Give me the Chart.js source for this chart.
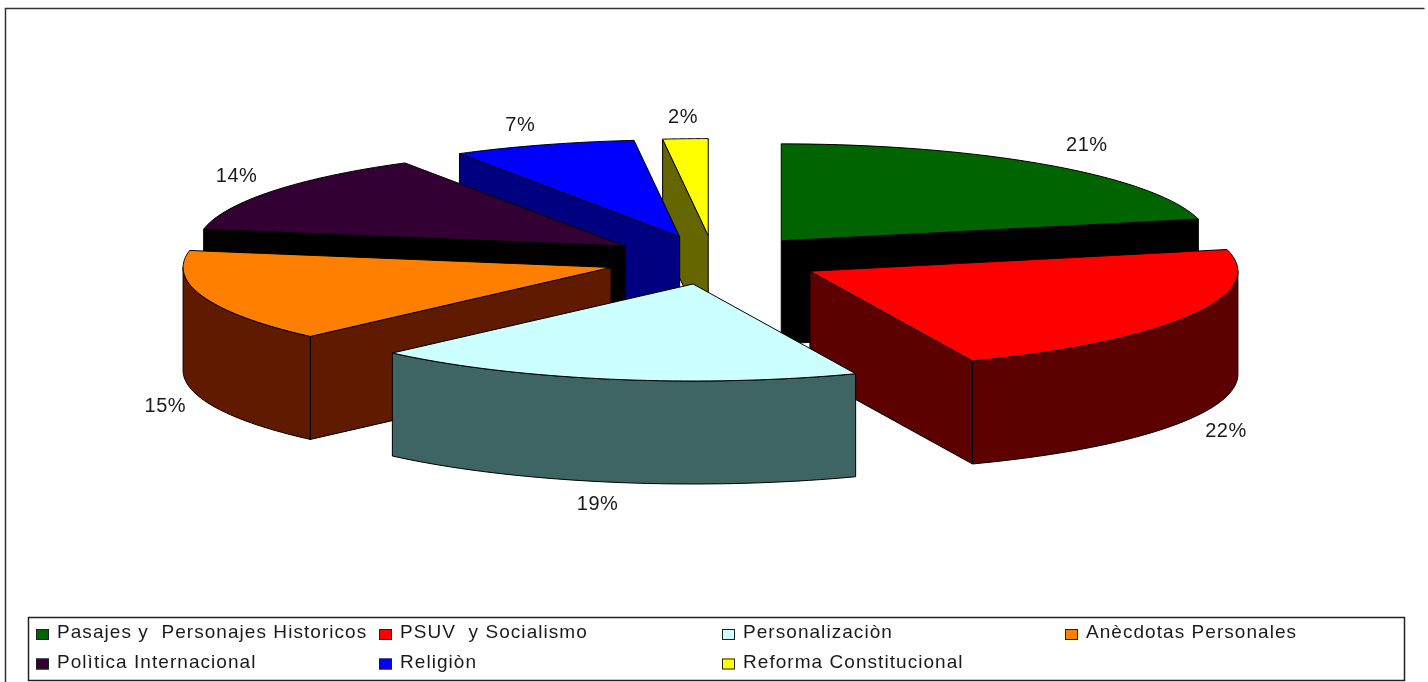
<!DOCTYPE html>
<html>
<head>
<meta charset="utf-8">
<title>Temas</title>
<style>
    html, body { margin: 0; padding: 0; background: #fff; overflow: hidden; }
    #chart-wrap { position: relative; width: 1428px; height: 682px; }
</style>
</head>
<body>
<div id="chart-wrap"><canvas id="pie-chart"></canvas></div>
<script src="https://cdn.jsdelivr.net/npm/chart.js@4"></script>
<script>
// Chart data
var categories = [
    "Pasajes y  Personajes Historicos",
    "PSUV  y Socialismo",
    "Personalizaciòn",
    "Anècdotas Personales",
    "Polìtica Internacional",
    "Religiòn",
    "Reforma Constitucional"
];
var shares = [21.4, 22.4, 18.6, 15.4, 13.6, 6.9, 1.7];
var topColors = ["#006400", "#ff0000", "#ccffff", "#ff8000", "#330033", "#0000ff", "#ffff00"];
var wallColors = ["#000000", "#5c0000", "#3f6464", "#5f1a00", "#000000", "#000080", "#666600"];

// 3D look: the pie is squashed, pulled apart and given a wall under each slice
var squash = 0.2266;
var centerY = 260;
var depth = 103;
var explode = 108;
var pieRadius = 428;
var drawOrder = [6, 5, 4, 0, 3, 1, 2];
var labelNudge = [[11, -2], [-4, 3], [-4, 1], [5, 0], [1, -2], [-9, 1], [0, 1]];

function midAngle(arc) {
    return (arc.startAngle + arc.endAngle) / 2;
}

// slice point on the page, after squash and explode
function screenPoint(arc, angle, r) {
    var mid = midAngle(arc);
    return {
        x: arc.x + explode * Math.cos(mid) + r * Math.cos(angle),
        y: centerY + squash * (explode * Math.sin(mid) + r * Math.sin(angle))
    };
}

function drawCutFace(ctx, arc, angle, color) {
    var a = screenPoint(arc, 0, 0);
    var b = screenPoint(arc, angle, arc.outerRadius);
    ctx.beginPath();
    ctx.moveTo(a.x, a.y);
    ctx.lineTo(b.x, b.y);
    ctx.lineTo(b.x, b.y + depth);
    ctx.lineTo(a.x, a.y + depth);
    ctx.closePath();
    ctx.fillStyle = color;
    ctx.fill();
    ctx.stroke();
}

function drawRim(ctx, arc, color) {
    var start = arc.startAngle, end = arc.endAngle;
    // only the part of the rim that faces the viewer
    var from = Math.max(start, 0);
    var to = Math.min(end, Math.PI);
    if (to <= from) return;
    var steps = 40, i, p;
    ctx.beginPath();
    for (i = 0; i <= steps; i++) {
        p = screenPoint(arc, from + (to - from) * i / steps, arc.outerRadius);
        if (i == 0) ctx.moveTo(p.x, p.y); else ctx.lineTo(p.x, p.y);
    }
    for (i = steps; i >= 0; i--) {
        p = screenPoint(arc, from + (to - from) * i / steps, arc.outerRadius);
        ctx.lineTo(p.x, p.y + depth);
    }
    ctx.closePath();
    ctx.fillStyle = color;
    ctx.fill();
    ctx.stroke();
}

function strokeTop(ctx, arc) {
    var a = screenPoint(arc, 0, 0), steps = 40, p;
    ctx.beginPath();
    ctx.moveTo(a.x, a.y);
    for (var i = 0; i <= steps; i++) {
        p = screenPoint(arc, arc.startAngle + (arc.endAngle - arc.startAngle) * i / steps, arc.outerRadius);
        ctx.lineTo(p.x, p.y);
    }
    ctx.closePath();
    ctx.stroke();
}

var pie3d = {
    id: "pie3d",
    beforeDatasetDraw: function (chart, args) {
        var ctx = chart.ctx;
        var arcs = args.meta.data;
        drawOrder.forEach(function (i) {
            var arc = arcs[i];
            var mid = midAngle(arc);
            ctx.save();
            ctx.strokeStyle = "#000";
            ctx.lineWidth = 1;
            // only walls turned to the viewer
            if (-Math.cos(arc.startAngle) > 0) drawCutFace(ctx, arc, arc.startAngle, wallColors[i]);
            if (Math.cos(arc.endAngle) > 0) drawCutFace(ctx, arc, arc.endAngle, wallColors[i]);
            drawRim(ctx, arc, wallColors[i]);
            ctx.save();
            ctx.translate(0, centerY);
            ctx.scale(1, squash);
            ctx.translate(explode * Math.cos(mid), explode * Math.sin(mid) - arc.y);
            arc.draw(ctx);
            ctx.restore();
            strokeTop(ctx, arc);
            ctx.restore();
        });
        return false;
    },
    afterDraw: function (chart) {
        var ctx = chart.ctx;
        var arcs = chart.getDatasetMeta(0).data;
        ctx.save();

        // Outer frame, open on the right
        ctx.strokeStyle = "#333";
        ctx.lineWidth = 1.5;
        ctx.beginPath();
        ctx.moveTo(5.5, 690);
        ctx.lineTo(5.5, 8.5);
        ctx.lineTo(1424.5, 8.5);
        ctx.stroke();

        // Slice labels
        ctx.fillStyle = "#1a1a1a";
        ctx.font = "20px 'Liberation Sans', Arial, sans-serif";
        ctx.textAlign = "center";
        ctx.textBaseline = "middle";
        ctx.letterSpacing = "0.5px";
        arcs.forEach(function (arc, i) {
            var mid = midAngle(arc);
            var p = screenPoint(arc, mid, arc.outerRadius);
            var front = Math.sin(mid) > 0 ? depth : 0;
            ctx.fillText(Math.round(shares[i]) + "%",
                p.x + Math.cos(mid) * 45 + labelNudge[i][0],
                p.y + front + Math.sin(mid) * 22 + labelNudge[i][1]);
        });

        // Legend box, four columns
        ctx.fillStyle = "#fff";
        ctx.fillRect(28, 617, 1376, 64);
        ctx.strokeStyle = "#222";
        ctx.lineWidth = 1.5;
        ctx.strokeRect(28.5, 617.5, 1376, 63);
        ctx.font = "19px 'Liberation Sans', Arial, sans-serif";
        ctx.textAlign = "left";
        ctx.letterSpacing = "1.05px";
        ctx.lineWidth = 1;
        categories.forEach(function (name, i) {
            var x = 36 + 343 * (i % 4);
            var y = 633 + 29.5 * Math.floor(i / 4);
            ctx.fillStyle = topColors[i];
            ctx.fillRect(x, y - 4, 13, 11);
            ctx.strokeRect(x + 0.5, y - 3.5, 12, 10);
            ctx.fillStyle = "#1a1a1a";
            ctx.fillText(name, x + 21, y);
        });
        ctx.restore();
    }
};

new Chart(document.getElementById("pie-chart"), {
    type: "pie",
    data: {
        labels: categories,
        datasets: [{
            data: shares,
            backgroundColor: topColors,
            borderWidth: 0,
            radius: pieRadius,
            clip: false
        }]
    },
    options: {
        responsive: true,
        maintainAspectRatio: false,
        animation: false,
        events: [],
        layout: { padding: 0 },
        plugins: {
            legend: { display: false },
            tooltip: { enabled: false }
        }
    },
    plugins: [pie3d]
});
</script>
</body>
</html>
